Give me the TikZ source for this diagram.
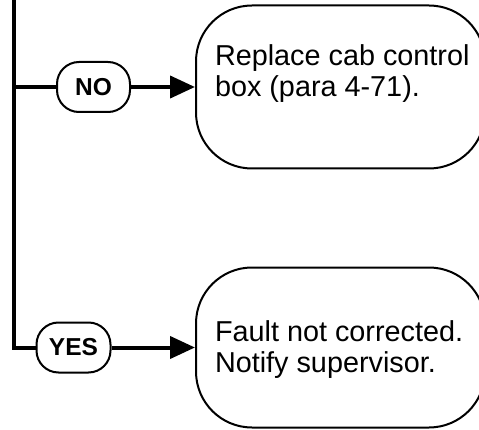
\documentclass[tikz,border=0pt]{standalone}
\usepackage{fontspec}
\setmainfont{Liberation Sans}
\usetikzlibrary{arrows.meta,positioning}

\begin{document}
\begin{tikzpicture}[x=1pt, y=1pt, line width=2pt,
  every node/.style={font=\fontsize{28.8}{31}\selectfont},
  answer/.style={draw, rounded corners=22pt, minimum width=73pt, minimum height=50pt, inner sep=0pt, font=\bfseries\fontsize{24.5}{26}\selectfont},
  stepbox/.style={draw, fill=white, rounded corners=56pt, minimum width=289pt, inner sep=0pt},
  flow/.style={line width=4pt},
  boxtext/.style={align=left, inner sep=0pt, anchor=west}]

\useasboundingbox (0,0) rectangle (479,429);
\clip (0,0) rectangle (479,429);

% Action boxes
\node[stepbox, minimum height=163pt] (replace) at (340.5,342) {};
\node[stepbox, minimum height=160pt] (fault) at (340.5,81.5) {};
\node[boxtext] (replacetxt) at ([shift={(19pt,13pt)}]replace.west) {Replace cab control\\box (para 4-71).};
\node[boxtext] (faulttxt) at ([shift={(19pt,-2.5pt)}]fault.west) {Fault not corrected.\\Notify supervisor.};

% Answer ovals
\node[answer] (no) at (93.5,342) {NO};
\node[answer, minimum width=74pt] (yes) at (73.5,81.5) {YES};

% Decision line
\coordinate (top) at (14,429);
\coordinate (corner) at (top |- yes);
\draw[flow] (top) -- (corner) -- (yes.west);
\draw[flow] (top |- no) -- (no.west);

% Arrows
\draw[flow, -{Triangle[length=25pt, width=22pt]}] (no.east) -- (replace.west);
\draw[flow, -{Triangle[length=25pt, width=22pt]}] (yes.east) -- (fault.west);

\end{tikzpicture}
\end{document}
